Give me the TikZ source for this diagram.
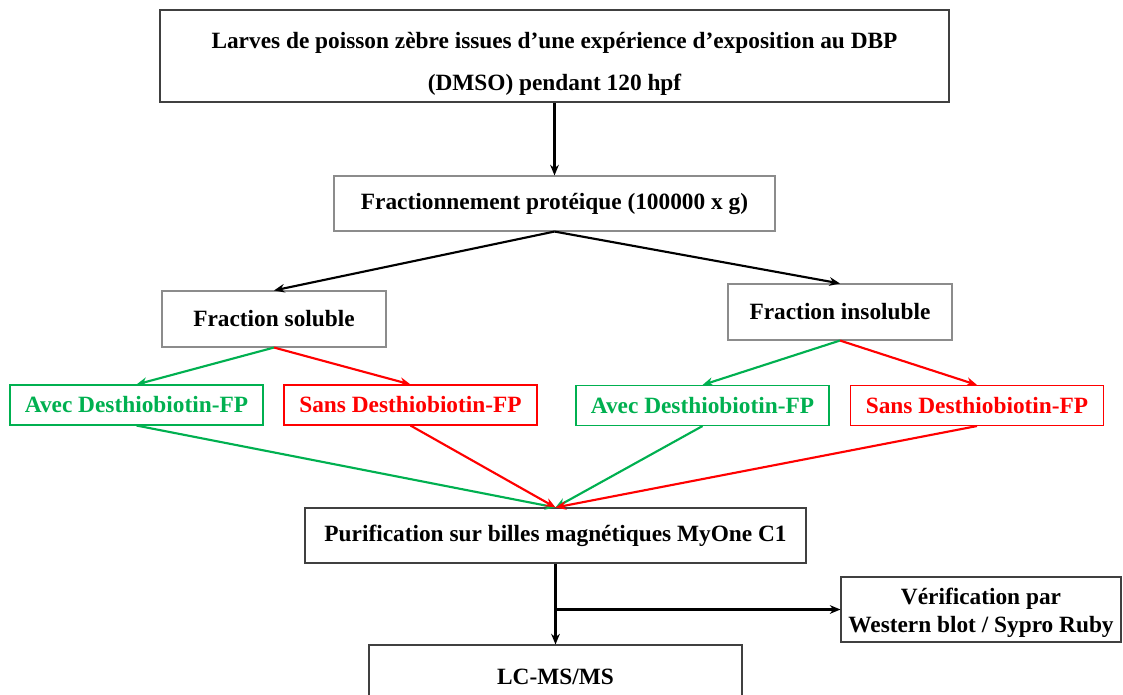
\documentclass[tikz,border=0pt]{standalone}
\usepackage{fontspec}
\setmainfont{Liberation Serif}
\usepackage{tikz}
\usetikzlibrary{arrows.meta,positioning}
\usepackage{xcolor}
\definecolor{vert}{RGB}{0,176,80}
\definecolor{rouge}{RGB}{255,0,0}

\begin{document}
\begin{tikzpicture}[x=0.75pt, y=-0.75pt,
  boite/.style={draw=black!75, line width=0.8pt, align=center, inner sep=0pt, font=\fontsize{17.5}{31}\selectfont\bfseries},
  grise/.style={boite, draw=black!45},
  avec/.style={boite, draw=vert, text=vert, minimum width=189.75pt, minimum height=30pt},
  sans/.style={boite, draw=rouge, text=rouge, minimum width=189.75pt, minimum height=30pt},
  fleche/.style={line width=1.6pt, -{Stealth[length=8pt,width=6.5pt]}}]
\useasboundingbox (0,0) rectangle (1123,695);
\clip (0,0) rectangle (1123,695);
% boxes, centres in pixels of the page
\node[boite, minimum width=591.75pt, minimum height=69pt] (larves) at (554.5,56)
  {\rule{0pt}{24pt}Larves de poisson zèbre issues d’une expérience d’exposition au DBP\\(DMSO) pendant 120 hpf};
\node[grise, minimum width=330.75pt, minimum height=41.25pt] (fract) at (554.5,203.5) {Fractionnement protéique (100000 x g)};
\node[grise, minimum width=168pt, minimum height=42pt] (soluble) at (274,319) {Fraction soluble};
\node[grise, minimum width=168pt, minimum height=42pt] (insoluble) at (840,312) {Fraction insoluble};
\node[avec] (avecS) at (136.5,405) {Avec Desthiobiotin-FP};
\node[sans] (sansS) at (410.5,405) {Sans Desthiobiotin-FP};
\node[avec] (avecI) at (702.5,405.5) {Avec Desthiobiotin-FP};
\node[sans] (sansI) at (977,405.5) {Sans Desthiobiotin-FP};
\node[boite, minimum width=375.75pt, minimum height=41.25pt] (purif) at (555.5,535.5) {Purification sur billes magnétiques MyOne C1};
\node[boite, minimum width=210pt, minimum height=48.75pt, font=\fontsize{17.5}{21}\selectfont\bfseries] (verif) at (981,609.5) {\rule{0pt}{18pt}Vérification par\\Western blot / Sypro Ruby};
\node[boite, minimum width=279.75pt, minimum height=48pt] (lcms) at (555.5,677) {LC-MS/MS};
\coordinate (jonction) at (purif.south |- verif.west);
% connectors
\draw[fleche] (larves) -- (fract);
\draw[fleche] (fract.south) -- (soluble.north);
\draw[fleche] (fract.south) -- (insoluble.north);
\foreach \f/\a/\s in {soluble/avecS/sansS, insoluble/avecI/sansI}
  {\draw[fleche, vert] (\f.south) -- (\a.north);
   \draw[fleche, rouge] (\f.south) -- (\s.north);
   \draw[fleche, vert] (\a.south) -- (purif.north);
   \draw[fleche, rouge] (\s.south) -- (purif.north);}
\draw[fleche] (purif) -- (lcms);
\draw[fleche] (jonction) -- (verif);
\end{tikzpicture}
\end{document}
